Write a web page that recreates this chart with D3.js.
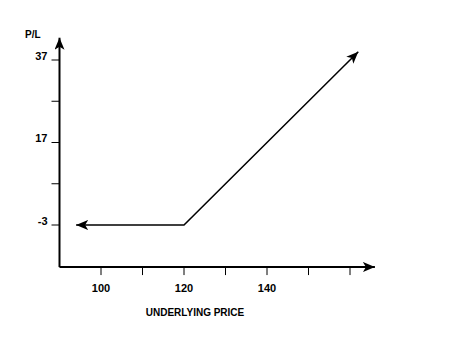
<!DOCTYPE html>
<html><head><meta charset="utf-8">
<script src="https://cdn.jsdelivr.net/npm/d3@7"></script>
<style>body{margin:0;background:#fff}svg{display:block}text{font-family:"Liberation Sans",Arial,sans-serif;font-weight:bold;fill:#000}</style>
</head><body>
<script>
const xTicks = [100, 110, 120, 130, 140, 150, 160];
const xTickLabels = ["100", "", "120", "", "140", "", ""];
const yTicks = [-3, 7, 17, 27, 37];
const yTickLabels = ["-3", "", "17", "", "37"];
const payoffX = [94, 120, 162];
const payoffY = [-3, -3, 39];

const W = 469, H = 343;
const svg = d3.select("body").append("svg").attr("width", W).attr("height", H);
const x = d3.scaleLinear().domain([100, 140]).range([101, 267]);
const y = d3.scaleLinear().domain([-3, 37]).range([225, 60]);
const x0 = 90, x1 = 166, y0 = -13.2, y1 = 42.4;

const defs = svg.append("defs");
defs.append("marker").attr("id", "ah").attr("viewBox", "0 0 12 10")
  .attr("refX", 12).attr("refY", 5).attr("markerWidth", 12).attr("markerHeight", 10)
  .attr("markerUnits", "userSpaceOnUse").attr("orient", "auto-start-reverse")
  .append("path").attr("d", "M0,0 L12,5 L0,10 L3,5 Z").attr("fill", "#000");

// axes
svg.append("line").attr("x1", x(x0)).attr("y1", y(y0)).attr("x2", x(x0)).attr("y2", y(y1))
  .attr("stroke", "#000").attr("stroke-width", 2).attr("marker-end", "url(#ah)");
svg.append("line").attr("x1", x(x0)).attr("y1", y(y0)).attr("x2", x(x1)).attr("y2", y(y0))
  .attr("stroke", "#000").attr("stroke-width", 2).attr("marker-end", "url(#ah)");

// x ticks
const xa = svg.append("g").attr("transform", `translate(0,${y(y0)})`);
xa.selectAll("line").data(xTicks).join("line")
  .attr("x1", d => x(d)).attr("x2", d => x(d)).attr("y1", 0).attr("y2", 8)
  .attr("stroke", "#000").attr("stroke-width", 1);
xa.selectAll("text").data(xTicks).join("text")
  .attr("x", d => x(d)).attr("y", 25).attr("text-anchor", "middle")
  .attr("font-size", 11).text((d, i) => xTickLabels[i]);

// y ticks
const ya = svg.append("g").attr("transform", `translate(${x(x0)},0)`);
ya.selectAll("line").data(yTicks).join("line")
  .attr("x1", -8).attr("x2", 0).attr("y1", d => y(d)).attr("y2", d => y(d))
  .attr("stroke", "#000").attr("stroke-width", 1);
ya.selectAll("text").data(yTicks).join("text")
  .attr("x", -12).attr("y", d => y(d) - 0.5).attr("text-anchor", "end")
  .attr("font-size", 11).attr("font-weight", d => d < 0 ? "normal" : "bold")
  .text((d, i) => yTickLabels[i]);

svg.append("text").attr("x", 25).attr("y", 38).attr("font-size", 10).text("P/L");
svg.append("text").attr("x", 195).attr("y", 316).attr("text-anchor", "middle")
  .attr("font-size", 10).text("UNDERLYING PRICE");

// payoff
const pts = payoffX.map((v, i) => [x(v), y(payoffY[i])]);
svg.append("path").attr("d", d3.line()(pts)).attr("fill", "none")
  .attr("stroke", "#000").attr("stroke-width", 1.5)
  .attr("marker-start", "url(#ah)").attr("marker-end", "url(#ah)");
</script>
</body></html>
